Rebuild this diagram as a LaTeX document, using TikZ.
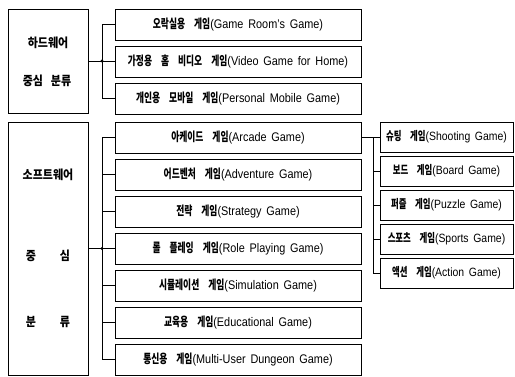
\documentclass[tikz,border=0pt]{standalone}
\usepackage{fontspec}
\setmainfont[WordSpace=1.6,FakeStretch=0.87]{Liberation Sans}
\newfontfamily\kr[Scale=1.0,FakeStretch=0.7,WordSpace=4.5]{Noto Sans CJK KR}
\newfontfamily\krl[FakeStretch=0.88]{Noto Sans CJK KR}
\newcommand\K[1]{{\kr\bfseries #1}}
\newcommand\KL[1]{{\krl\bfseries #1}}
\begin{document}
\begin{tikzpicture}[x=1pt,y=-1pt,
  every node/.style={inner sep=0pt, outer sep=0pt},
  lbox/.style={draw, line width=1pt, minimum width=80pt, anchor=north west},
  mbox/.style={draw, line width=1pt, minimum width=246pt, minimum height=31pt, anchor=north west, font=\fontsize{12.5}{14}\selectfont},
  rbox/.style={draw, line width=1pt, minimum width=133pt, minimum height=30pt, anchor=north west, font=\fontsize{12}{14}\selectfont},
  ltext/.style={font=\fontsize{12.5}{15}\selectfont},
  conn/.style={line width=1pt},
  dot/.style={fill=black}]
\useasboundingbox[fill=white] (0,0) rectangle (515,376);
% left boxes
\node[lbox, minimum height=104pt] (L1) at (8,9) {};
\node[lbox, minimum height=253pt] (L2) at (8,122) {};
\node[ltext] (t1) at (48,43) {\KL{하드웨어}};
\node[ltext] (t2) at (47,81) {\KL{중심\hspace{8pt}분류}};
\node[ltext] (t3) at (48,175) {\KL{소프트웨어}};
\node[ltext] (t4) at (48,256) {\KL{중\hspace{24pt}심}};
\node[ltext] (t5) at (48,322) {\KL{분\hspace{24pt}류}};
% hardware column
\node[mbox] (h1) at (115,9) {\K{오락실용 게임}(Game Room’s Game)};
\node[mbox] (h2) at (115,46) {\K{가정용 홈 비디오 게임}(Video Game for Home)};
\node[mbox] (h3) at (115,83) {\K{개인용 모바일 게임}(Personal Mobile Game)};
% software column
\node[mbox] (s1) at (115,122) {\K{아케이드 게임}(Arcade Game)};
\node[mbox] (s2) at (115,159) {\K{어드벤처 게임}(Adventure Game)};
\node[mbox] (s3) at (115,196) {\K{전략 게임}(Strategy Game)};
\node[mbox] (s4) at (115,233) {\K{롤 플레잉 게임}(Role Playing Game)};
\node[mbox] (s5) at (115,270) {\K{시뮬레이션 게임}(Simulation Game)};
\node[mbox] (s6) at (115,307) {\K{교육용 게임}(Educational Game)};
\node[mbox] (s7) at (115,344) {\K{통신용 게임}(Multi-User Dungeon Game)};
% right column
\node[rbox] (r1) at (380,122) {\K{슈팅 게임}(Shooting Game)};
\node[rbox] (r2) at (380,156) {\K{보드 게임}(Board Game)};
\node[rbox] (r3) at (380,190) {\K{퍼즐 게임}(Puzzle Game)};
\node[rbox] (r4) at (380,224) {\K{스포츠 게임}(Sports Game)};
\node[rbox] (r5) at (380,258) {\K{액션 게임}(Action Game)};
% junctions
\coordinate (hj) at (102,61);
\coordinate (sj) at (102,248.5);
\coordinate (rj) at (373,137.5);
% hardware connectors
\draw[conn] (L1.east) -- (hj);
\draw[conn] (h1.west) -| (hj);
\draw[conn] (h3.west) -| (hj);
\draw[conn] (h2.west) -- (h2.west -| hj);
\fill[dot] (hj) circle (1.6pt);
% software connectors
\draw[conn] (L2.east) -- (sj);
\foreach \n in {s1,s2,s3,s5,s6,s7} \draw[conn] (\n.west) -| (sj);
\draw[conn] (s4.west) -- (sj);
\fill[dot] (sj) circle (1.6pt);
% right connectors
\draw[conn] (s1.east) -- (rj) -- (rj -| r1.west);
\foreach \n in {r2,r3,r4,r5} \draw[conn] (\n.west) -| (rj);
\end{tikzpicture}
\end{document}
